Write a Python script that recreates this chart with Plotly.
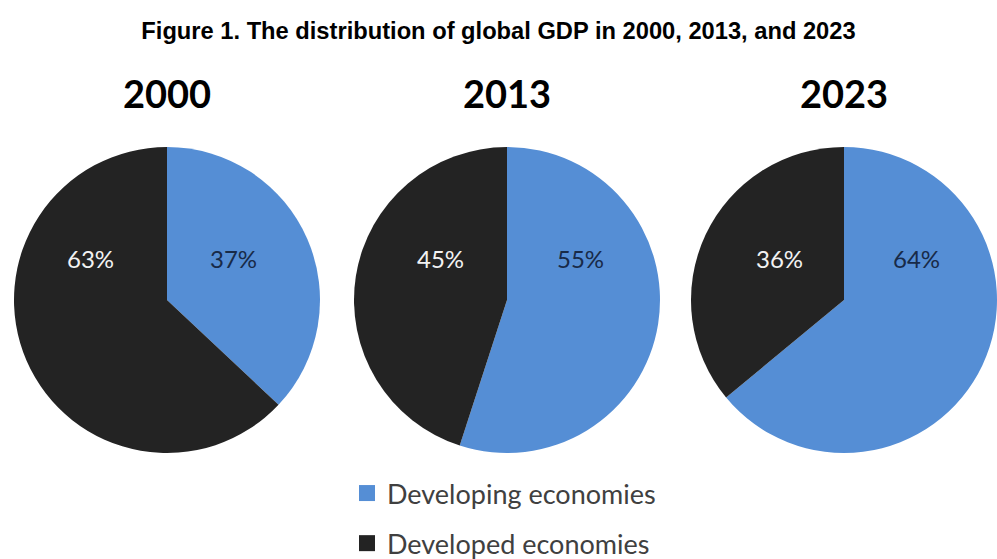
import plotly.graph_objects as go

# Shares of global GDP (%)
years = ["2000", "2013", "2023"]
groups = ["Developing economies", "Developed economies"]
developing = [37, 55, 64]
developed = [63, 45, 36]

COLORS = {"Developing economies": "#558ED5", "Developed economies": "#232323"}
LABEL_COLORS = {"Developing economies": "#182a48", "Developed economies": "#f2f2f2"}

W, H = 997, 559
R = 153
CENTERS_X = [167, 507, 844]
CENTER_Y = 300
# horizontal offsets of the percentage labels from each pie centre
LABEL_DX = {"Developing economies": [66, 73, 72], "Developed economies": [-77, -67, -65]}
LABEL_DY = -42

fig = go.Figure()

for i, year in enumerate(years):
    cx = CENTERS_X[i]
    x0 = max(0.0, (cx - R) / W)
    x1 = min(1.0, (cx + R) / W)
    y0 = 1 - (CENTER_Y + R) / H
    y1 = 1 - (CENTER_Y - R) / H
    fig.add_trace(go.Pie(
        labels=groups,
        values=[developing[i], developed[i]],
        sort=False,
        direction="clockwise",
        rotation=0,
        marker=dict(colors=[COLORS[g] for g in groups], line=dict(width=0)),
        textinfo="none",
        hoverinfo="label+percent",
        showlegend=False,
        domain=dict(x=[x0, x1], y=[y0, y1]),
    ))
    # year heading above each pie
    fig.add_annotation(
        x=(x0 + x1) / 2, y=1 - 93 / H, xref="paper", yref="paper",
        text=f"<b>{year}</b>", showarrow=False,
        font=dict(family="Lato", size=38, color="#000000"),
        xanchor="center", yanchor="middle",
    )
    # percentage labels
    for g, vals in (("Developing economies", developing), ("Developed economies", developed)):
        fig.add_annotation(
            x=((x0 + x1) / 2 * W + LABEL_DX[g][i]) / W,
            y=1 - (CENTER_Y + LABEL_DY) / H,
            xref="paper", yref="paper",
            text=f"{vals[i]}%", showarrow=False,
            font=dict(family="Lato", size=24, color=LABEL_COLORS[g]),
            xanchor="center", yanchor="middle",
        )

# legend entries (one per economy group)
for g in groups:
    fig.add_trace(go.Scatter(
        x=[None], y=[None], mode="markers", name=g,
        legendgroup=g,
        marker=dict(symbol="square", size=16, color=COLORS[g]),
        hoverinfo="skip",
    ))

fig.update_layout(
    width=W, height=H,
    margin=dict(l=0, r=0, t=0, b=0, autoexpand=False),
    paper_bgcolor="#ffffff",
    plot_bgcolor="#ffffff",
    xaxis=dict(visible=False),
    yaxis=dict(visible=False),
    title=dict(
        text="<b>Figure 1. The distribution of global GDP in 2000, 2013, and 2023</b>",
        x=0.5, xanchor="center", y=1 - 31 / H, yanchor="middle",
        font=dict(family="Liberation Sans, Arial", size=23.7, color="#000000"),
    ),
    showlegend=True,
    legend=dict(
        x=347 / W, xanchor="left",
        y=1 - 469 / H, yanchor="top",
        traceorder="grouped",
        tracegroupgap=12,
        font=dict(family="Lato", size=27, color="#404040"),
        bgcolor="rgba(0,0,0,0)",
        itemclick=False, itemdoubleclick=False,
    ),
)

fig.write_html("out.html")
